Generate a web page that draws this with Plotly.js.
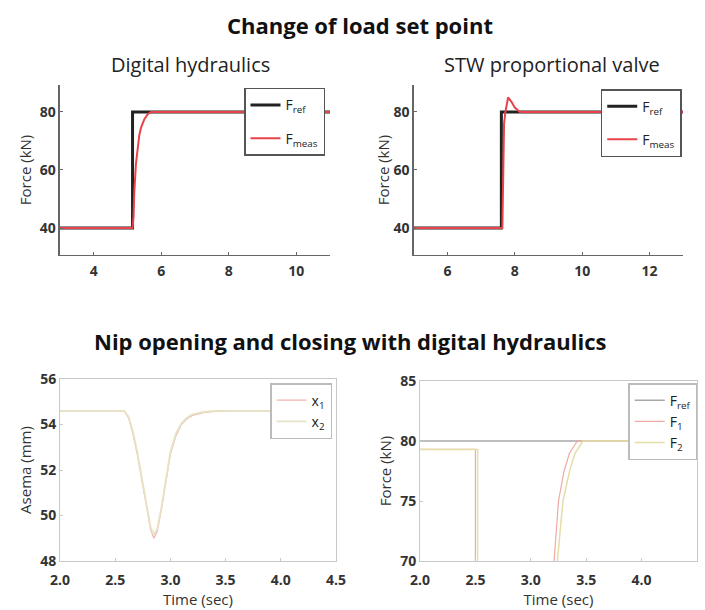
<!DOCTYPE html>
<html>
<head>
<meta charset="utf-8">
<script src="https://cdn.plot.ly/plotly-3.0.1.min.js"></script>
<style>html,body{margin:0;padding:0;background:#fff;}#chart{width:705px;height:610px;}</style>
</head>
<body>
<div id="chart"></div>
<script>
// ---- Data: Change of load set point, digital hydraulics ----
const tRefDH = [3, 5.15, 5.15, 11];
const fRefDH = [40, 40, 80, 80];
const tMeasDH = [3, 5.15, 5.18, 5.2, 5.25, 5.3, 5.35, 5.4, 5.5, 5.6, 5.7, 11];
const fMeasDH = [40, 40, 44, 52, 62, 68, 72, 74.5, 77.5, 79.2, 80, 80];

// ---- Data: STW proportional valve ----
const tRefSTW = [5, 7.6, 7.6, 13];
const fRefSTW = [40, 40, 80, 80];
const tMeasSTW = [5, 7.63, 7.68, 7.72, 7.8, 7.9, 8.0, 8.15, 13];
const fMeasSTW = [40, 40, 76, 80, 85, 83.5, 81.5, 80, 80];

// ---- Data: Nip opening and closing, position ----
const tPos = [2.0, 2.58, 2.62, 2.66, 2.70, 2.74, 2.78, 2.82, 2.85, 2.88, 2.92, 2.96, 3.0, 3.05, 3.1, 3.15, 3.2, 3.3, 3.4, 3.5, 4.0];
const x1Pos = [54.6, 54.6, 54.3, 53.6, 52.7, 51.6, 50.4, 49.4, 49.0, 49.3, 50.3, 51.6, 52.7, 53.5, 54.0, 54.25, 54.4, 54.52, 54.58, 54.6, 54.6];
const x2Pos = [54.6, 54.6, 54.35, 53.7, 52.8, 51.7, 50.5, 49.5, 49.15, 49.4, 50.4, 51.7, 52.8, 53.6, 54.05, 54.3, 54.45, 54.55, 54.6, 54.6, 54.6];

// ---- Data: Nip opening and closing, forces ----
const tFref = [2.0, 4.5];
const fFref = [80, 80];
const tF1 = [2.0, 2.5, 2.5, 3.2, 3.21, 3.25, 3.3, 3.35, 3.42, 4.5];
const fF1 = [79.3, 79.3, 65, 65, 70, 75, 77.5, 79, 80, 80];
const tF2 = [2.0, 2.52, 2.52, 3.22, 3.24, 3.29, 3.35, 3.4, 3.47, 4.5];
const fF2 = [79.3, 79.3, 65, 65, 70, 75, 77.5, 79, 80, 80];

// Tick labels
const ticksDH = [4, 6, 8, 10];
const ticksSTW = [6, 8, 10, 12];
const ticksLoadY = [40, 60, 80];
const ticksTime = [2.0, 2.5, 3.0, 3.5, 4.0, 4.5];
const ticksTimeText = ['2.0', '2.5', '3.0', '3.5', '4.0', '4.5'];
const ticksPos = [48, 50, 52, 54, 56];
const ticksForce = [70, 75, 80, 85];

const FONT = 'Open Sans, Noto Sans, sans-serif';
const tickFont = {family: FONT, size: 14, color: '#333', weight: 'bold'};
const titleFont = {family: FONT, size: 15, color: '#333'};

const traces = [
  {x: tRefDH, y: fRefDH, xaxis: 'x', yaxis: 'y', mode: 'lines', name: 'F<sub>ref</sub>', line: {color: '#222', width: 3}, legend: 'legend', legendgroup: 'a1'},
  {x: tMeasDH, y: fMeasDH, xaxis: 'x', yaxis: 'y', mode: 'lines', name: 'F<sub>meas</sub>', line: {color: '#e8424a', width: 2}, legend: 'legend', legendgroup: 'a2'},
  {x: tRefSTW, y: fRefSTW, xaxis: 'x2', yaxis: 'y2', mode: 'lines', name: 'F<sub>ref</sub>', line: {color: '#222', width: 3}, legend: 'legend2', legendgroup: 'b1'},
  {x: tMeasSTW, y: fMeasSTW, xaxis: 'x2', yaxis: 'y2', mode: 'lines', name: 'F<sub>meas</sub>', line: {color: '#e8424a', width: 2}, legend: 'legend2', legendgroup: 'b2'},
  {x: tPos, y: x1Pos, xaxis: 'x3', yaxis: 'y3', mode: 'lines', name: 'x<sub>1</sub>', line: {color: '#f2b4ae', width: 1.2}, legend: 'legend3'},
  {x: tPos, y: x2Pos, xaxis: 'x3', yaxis: 'y3', mode: 'lines', name: 'x<sub>2</sub>', line: {color: '#e6e4c4', width: 1.8}, legend: 'legend3'},
  {x: tFref, y: fFref, xaxis: 'x4', yaxis: 'y4', mode: 'lines', name: 'F<sub>ref</sub>', line: {color: '#a8a8a8', width: 1.5}, legend: 'legend4'},
  {x: tF1, y: fF1, xaxis: 'x4', yaxis: 'y4', mode: 'lines', name: 'F<sub>1</sub>', line: {color: '#f0aaa2', width: 1.2}, legend: 'legend4'},
  {x: tF2, y: fF2, xaxis: 'x4', yaxis: 'y4', mode: 'lines', name: 'F<sub>2</sub>', line: {color: '#e4dea8', width: 1.5}, legend: 'legend4'}
];

function ax(extra) {
  return Object.assign({
    showgrid: false, zeroline: false, showline: true, linecolor: '#666', linewidth: 1.5,
    ticks: 'inside', ticklen: 3, tickcolor: '#666', tickfont: tickFont, fixedrange: true
  }, extra);
}
function axLight(extra) {
  return ax(Object.assign({linecolor: '#c8c8c8', tickcolor: '#c8c8c8', mirror: true, linewidth: 1}, extra));
}
function leg(x, y, border, gap) {
  return {x: x, y: y, xanchor: 'right', yanchor: 'top', bgcolor: '#fff', bordercolor: border, borderwidth: 1.5,
          font: {family: FONT, size: 14, color: '#222'}, tracegroupgap: gap, itemwidth: 30};
}

const layout = {
  width: 705, height: 610,
  margin: {l: 0, r: 0, t: 0, b: 0},
  paper_bgcolor: '#fff', plot_bgcolor: '#fff',
  showlegend: true,
  xaxis: ax({domain: [0.0851, 0.468], range: [3, 11], tickvals: ticksDH, anchor: 'y', ticklabelstandoff: 3}),
  yaxis: ax({domain: [0.582, 0.8607], range: [30.7, 89.3], tickvals: ticksLoadY, anchor: 'x',
             title: {text: 'Force (kN)', font: titleFont, standoff: 4}}),
  xaxis2: ax({domain: [0.587, 0.969], range: [5, 13], tickvals: ticksSTW, anchor: 'y2', ticklabelstandoff: 3}),
  yaxis2: ax({domain: [0.582, 0.8607], range: [30.7, 89.3], tickvals: ticksLoadY, anchor: 'x2',
              title: {text: 'Force (kN)', font: titleFont, standoff: 0}}),
  xaxis3: axLight({domain: [0.0851, 0.4766], range: [2, 4.5], tickvals: ticksTime, ticktext: ticksTimeText, anchor: 'y3',
                   ticklabelstandoff: 6, title: {text: 'Time (sec)', font: titleFont, standoff: 0}}),
  yaxis3: axLight({domain: [0.0803, 0.3787], range: [48, 56], tickvals: ticksPos, anchor: 'x3',
                   title: {text: 'Asema (mm)', font: titleFont, standoff: 4}}),
  xaxis4: axLight({domain: [0.5957, 0.9887], range: [2, 4.5], tickvals: ticksTime, ticktext: ticksTimeText, anchor: 'y4',
                   ticklabelstandoff: 6, title: {text: 'Time (sec)', font: titleFont, standoff: 0}}),
  yaxis4: axLight({domain: [0.0803, 0.3754], range: [70, 85], tickvals: ticksForce, anchor: 'x4',
                   title: {text: 'Force (kN)', font: titleFont, standoff: 4}}),
  legend: leg(0.461, 0.856, '#555', 12),
  legend2: leg(0.967, 0.854, '#555', 12),
  legend3: leg(0.471, 0.372, '#bbb', 0),
  legend4: leg(0.989, 0.372, '#bbb', 0),
  annotations: [
    {text: '<b>Change of load set point</b>', x: 360/705, y: 1 - 25/610, xref: 'paper', yref: 'paper', showarrow: false,
     xanchor: 'center', yanchor: 'middle', font: {family: FONT, size: 22, color: '#111'}},
    {text: 'Digital hydraulics', x: 190/705, y: 1 - 64/610, xref: 'paper', yref: 'paper', showarrow: false,
     xanchor: 'center', yanchor: 'middle', font: {family: FONT, size: 20, color: '#222'}},
    {text: 'STW proportional valve', x: 552/705, y: 1 - 64/610, xref: 'paper', yref: 'paper', showarrow: false,
     xanchor: 'center', yanchor: 'middle', font: {family: FONT, size: 20, color: '#222'}},
    {text: '<b>Nip opening and closing with digital hydraulics</b>', x: 350/705, y: 1 - 341/610, xref: 'paper', yref: 'paper', showarrow: false,
     xanchor: 'center', yanchor: 'middle', font: {family: FONT, size: 22, color: '#111'}}
  ]
};

Plotly.newPlot('chart', traces, layout, {displayModeBar: false, staticPlot: true});
</script>
</body>
</html>
